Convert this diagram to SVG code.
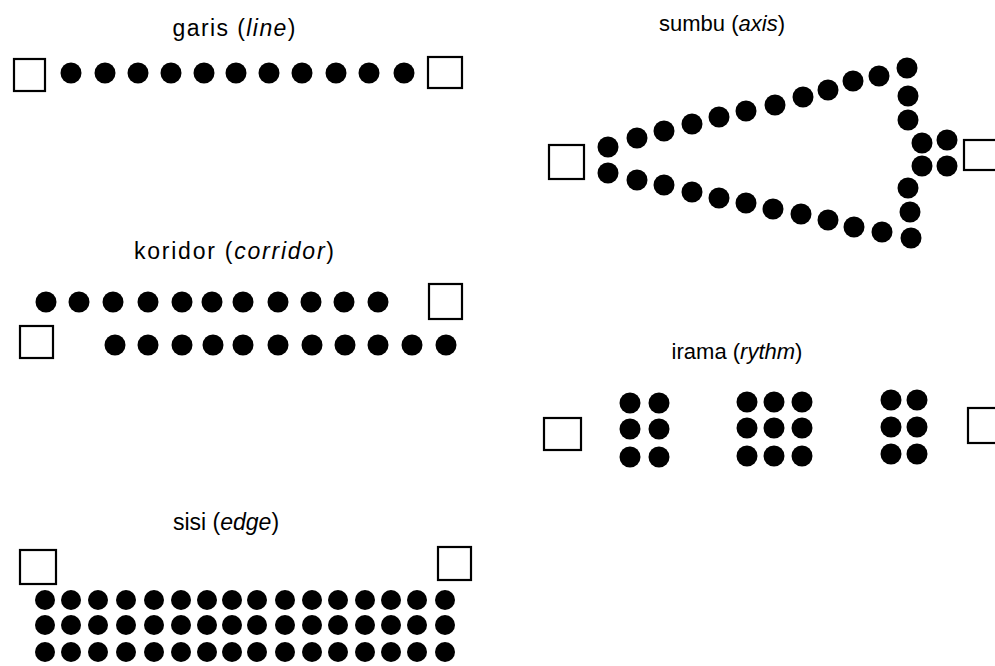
<svg xmlns="http://www.w3.org/2000/svg" xmlns:xlink="http://www.w3.org/1999/xlink" width="995" height="666" viewBox="0 0 995 666">
  <style>
    .label { font-family: "Liberation Sans", Arial, sans-serif; font-size: 23px; fill: #000; text-anchor: middle; }
    .label.r { font-size: 22px; }
    .label tspan.en { font-style: italic; }
    .post { fill: none; stroke: #000; stroke-width: 2.2; }
    .dot { fill: #000; }
  </style>
  <defs>
    <circle id="d" r="10.5" class="dot"/>
    <circle id="ds" r="10" class="dot"/>
  </defs>
  <rect width="995" height="666" fill="#fff"/>

  <!-- line -->
  <g id="garis">
    <text class="label" x="234" y="36" textLength="123" lengthAdjust="spacing">garis (<tspan class="en">line</tspan>)</text>
    <rect class="post" x="14" y="59" width="31" height="32"/>
    <rect class="post" x="428" y="57" width="34" height="31"/>
    <g>
      <use xlink:href="#d" x="71" y="73"/>
      <use xlink:href="#d" x="105" y="73"/>
      <use xlink:href="#d" x="138" y="73"/>
      <use xlink:href="#d" x="171" y="73"/>
      <use xlink:href="#d" x="204" y="73"/>
      <use xlink:href="#d" x="236" y="73"/>
      <use xlink:href="#d" x="269" y="73"/>
      <use xlink:href="#d" x="302" y="73"/>
      <use xlink:href="#d" x="336" y="73"/>
      <use xlink:href="#d" x="369" y="73"/>
      <use xlink:href="#d" x="404" y="73"/>
    </g>
  </g>

  <!-- corridor -->
  <g id="koridor">
    <text class="label" x="234" y="259" textLength="200" lengthAdjust="spacing">koridor (<tspan class="en">corridor</tspan>)</text>
    <rect class="post" x="429" y="284" width="33" height="35"/>
    <rect class="post" x="20" y="326" width="33" height="32"/>
    <g>
      <use xlink:href="#d" x="46" y="302"/>
      <use xlink:href="#d" x="79" y="302"/>
      <use xlink:href="#d" x="113" y="302"/>
      <use xlink:href="#d" x="148" y="302"/>
      <use xlink:href="#d" x="182" y="302"/>
      <use xlink:href="#d" x="212" y="302"/>
      <use xlink:href="#d" x="243" y="302"/>
      <use xlink:href="#d" x="278" y="302"/>
      <use xlink:href="#d" x="311" y="302"/>
      <use xlink:href="#d" x="344" y="302"/>
      <use xlink:href="#d" x="378" y="302"/>
    </g>
    <g>
      <use xlink:href="#d" x="115" y="345"/>
      <use xlink:href="#d" x="148" y="345"/>
      <use xlink:href="#d" x="182" y="345"/>
      <use xlink:href="#d" x="213" y="345"/>
      <use xlink:href="#d" x="243" y="345"/>
      <use xlink:href="#d" x="278" y="345"/>
      <use xlink:href="#d" x="312" y="345"/>
      <use xlink:href="#d" x="345" y="345"/>
      <use xlink:href="#d" x="378" y="345"/>
      <use xlink:href="#d" x="412" y="345"/>
      <use xlink:href="#d" x="446" y="345"/>
    </g>
  </g>

  <!-- edge -->
  <g id="sisi">
    <text class="label" x="226" y="530">sisi (<tspan class="en">edge</tspan>)</text>
    <rect class="post" x="20" y="550" width="36" height="34"/>
    <rect class="post" x="438" y="547" width="33" height="33"/>
    <g id="sisi-rows">
      <g id="row1">
        <use xlink:href="#ds" x="45" y="600"/><use xlink:href="#ds" x="71" y="600"/><use xlink:href="#ds" x="98" y="600"/><use xlink:href="#ds" x="126" y="600"/>
        <use xlink:href="#ds" x="154" y="600"/><use xlink:href="#ds" x="181" y="600"/><use xlink:href="#ds" x="207" y="600"/><use xlink:href="#ds" x="232" y="600"/>
        <use xlink:href="#ds" x="257" y="600"/><use xlink:href="#ds" x="285" y="600"/><use xlink:href="#ds" x="312" y="600"/><use xlink:href="#ds" x="338" y="600"/>
        <use xlink:href="#ds" x="365" y="600"/><use xlink:href="#ds" x="391" y="600"/><use xlink:href="#ds" x="417" y="600"/><use xlink:href="#ds" x="445" y="600"/>
      </g>
      <use xlink:href="#row1" y="25"/>
      <use xlink:href="#row1" y="52"/>
    </g>
  </g>

  <!-- axis -->
  <g id="sumbu">
    <text class="label r" x="722" y="31">sumbu (<tspan class="en">axis</tspan>)</text>
    <rect class="post" x="549" y="145" width="35" height="34"/>
    <rect class="post" x="964" y="140" width="40" height="30"/>
    <g>
      <use xlink:href="#d" x="608" y="147"/>
      <use xlink:href="#d" x="637" y="138"/>
      <use xlink:href="#d" x="664" y="131"/>
      <use xlink:href="#d" x="692" y="124"/>
      <use xlink:href="#d" x="719" y="117"/>
      <use xlink:href="#d" x="746" y="111"/>
      <use xlink:href="#d" x="775" y="105"/>
      <use xlink:href="#d" x="803" y="97"/>
      <use xlink:href="#d" x="828" y="90"/>
      <use xlink:href="#d" x="853" y="81"/>
      <use xlink:href="#d" x="879" y="76"/>
      <use xlink:href="#d" x="907" y="68"/>
      <use xlink:href="#d" x="908" y="96"/>
      <use xlink:href="#d" x="908" y="120"/>
      <use xlink:href="#d" x="922" y="143"/>
      <use xlink:href="#d" x="947" y="140"/>
      <use xlink:href="#d" x="922" y="166"/>
      <use xlink:href="#d" x="947" y="166"/>
      <use xlink:href="#d" x="908" y="188"/>
      <use xlink:href="#d" x="910" y="212"/>
      <use xlink:href="#d" x="911" y="238"/>
      <use xlink:href="#d" x="882" y="232"/>
      <use xlink:href="#d" x="854" y="227"/>
      <use xlink:href="#d" x="828" y="220"/>
      <use xlink:href="#d" x="801" y="214"/>
      <use xlink:href="#d" x="773" y="209"/>
      <use xlink:href="#d" x="746" y="203"/>
      <use xlink:href="#d" x="719" y="198"/>
      <use xlink:href="#d" x="692" y="192"/>
      <use xlink:href="#d" x="664" y="185"/>
      <use xlink:href="#d" x="637" y="180"/>
      <use xlink:href="#d" x="608" y="173"/>
    </g>
  </g>

  <!-- rhythm -->
  <g id="irama">
    <text class="label r" x="737" y="359">irama (<tspan class="en">rythm</tspan>)</text>
    <rect class="post" x="544" y="418" width="37" height="32"/>
    <rect class="post" x="968" y="408" width="40" height="35"/>
    <g id="irama-g1">
      <use xlink:href="#d" x="630" y="403"/><use xlink:href="#d" x="659" y="403"/>
      <use xlink:href="#d" x="630" y="429"/><use xlink:href="#d" x="659" y="429"/>
      <use xlink:href="#d" x="630" y="457"/><use xlink:href="#d" x="659" y="457"/>
    </g>
    <g id="irama-g2">
      <use xlink:href="#d" x="747" y="402"/><use xlink:href="#d" x="774" y="402"/><use xlink:href="#d" x="802" y="402"/>
      <use xlink:href="#d" x="747" y="428"/><use xlink:href="#d" x="774" y="428"/><use xlink:href="#d" x="802" y="428"/>
      <use xlink:href="#d" x="747" y="456"/><use xlink:href="#d" x="774" y="456"/><use xlink:href="#d" x="802" y="456"/>
    </g>
    <g id="irama-g3">
      <use xlink:href="#d" x="891" y="400"/><use xlink:href="#d" x="917" y="400"/>
      <use xlink:href="#d" x="891" y="427"/><use xlink:href="#d" x="917" y="427"/>
      <use xlink:href="#d" x="891" y="454"/><use xlink:href="#d" x="917" y="454"/>
    </g>
  </g>
</svg>
